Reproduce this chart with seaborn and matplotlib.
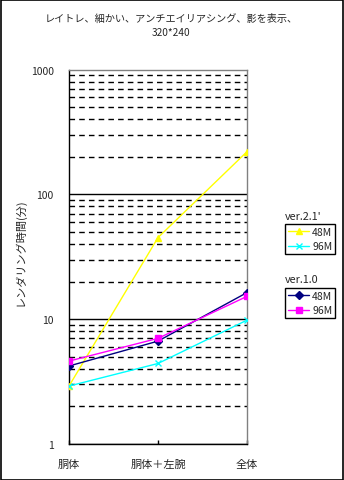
import matplotlib
matplotlib.use("Agg")
import matplotlib.pyplot as plt
import seaborn as sns
import pandas as pd
from matplotlib.patches import Rectangle
from matplotlib.ticker import FixedLocator, NullFormatter, FuncFormatter

# ---- data ----
categories = ["胴体", "胴体＋左腕", "全体"]
v21_48M = [2.9, 45, 220]
v21_96M = [2.9, 4.4, 9.8]
v10_48M = [4.2, 6.65, 16.3]
v10_96M = [4.6, 7.0, 15.2]
title_text = "レイトレ、細かい、アンチエイリアシング、影を表示、\n320*240"
ylabel_text = "レンダリング時間(分)"

sns.set_theme(style="white")
plt.rcParams['font.family'] = ['Noto Sans CJK JP', 'DejaVu Sans']

fig = plt.figure(figsize=(3.44, 4.81), dpi=100)
ax = fig.add_axes([69/344, 1-444.7/481, (247-69)/344, (444.7-70.7)/481])

series = [
    ("ver.2.1' 48M", v21_48M, "#FFFF00", "^", 5),
    ("ver.2.1' 96M", v21_96M, "#00FFFF", "x", 4),
    ("ver.1.0 48M", v10_48M, "#000080", "D", 4),
    ("ver.1.0 96M", v10_96M, "#FF00FF", "s", 5),
]
handles = []
for name, vals, col, mk, ms in series:
    df = pd.DataFrame({"x": list(range(len(categories))), "y": vals})
    sns.lineplot(data=df, x="x", y="y", ax=ax, color=col, marker=mk,
                 markersize=ms, markeredgecolor=col, markeredgewidth=1,
                 linewidth=1, zorder=3, legend=False)
    handles.append(ax.lines[-1])

ax.set_yscale("log")
ax.set_ylim(1, 1000)
ax.set_xlim(0, len(categories) - 1)
ax.set_xticks(range(len(categories)))
ax.set_xticklabels(categories, fontsize=8)
ax.yaxis.set_major_locator(FixedLocator([1, 10, 100, 1000]))
ax.yaxis.set_major_formatter(FuncFormatter(lambda v, p: f"{int(round(v))}"))
minors = [m * 10**e for e in range(0, 3) for m in range(2, 10)]
ax.yaxis.set_minor_locator(FixedLocator(minors))
ax.yaxis.set_minor_formatter(NullFormatter())
ax.tick_params(axis='y', which='both', length=0, labelsize=7.5, pad=11)
ax.tick_params(axis='x', which='major', direction='in', length=3, width=1,
               color='black', pad=11, bottom=True)
ax.grid(which='major', axis='y', color='black', linewidth=1, linestyle='-')
ax.grid(which='minor', axis='y', color='black', linewidth=1, linestyle=(0, (4, 3)))
ax.grid(axis='x', visible=False)
ax.set_axisbelow(True)
fig.canvas.draw()
for t in ax.yaxis.get_major_ticks():
    if abs(t.get_loc() - 1000) < 1e-6:
        t.gridline.set_visible(False)
for s in ['left', 'bottom']:
    ax.spines[s].set_color('black')
    ax.spines[s].set_linewidth(1)
for s in ['top', 'right']:
    ax.spines[s].set_color('#808080')
    ax.spines[s].set_linewidth(1)
ax.set_facecolor('white')
ax.set_xlabel("")
ax.set_ylabel("")

fig.text(171/344, 1-26/481, title_text, ha='center', va='center',
         fontsize=7.3, linespacing=1.6)
fig.text(20/344, 1-252/481, ylabel_text, rotation=90, ha='center', va='center',
         fontsize=8)

leg1 = fig.legend(handles[:2], ["48M", "96M"], loc='upper left',
                  bbox_to_anchor=(285/344, 1-225/481), fontsize=7.5,
                  frameon=True, fancybox=False, edgecolor='black',
                  framealpha=1, borderpad=0.3, handlelength=2.0,
                  handletextpad=0.3, labelspacing=0.4, borderaxespad=0,
                  numpoints=1)
leg1.get_frame().set_linewidth(1)
leg2 = fig.legend(handles[2:], ["48M", "96M"], loc='upper left',
                  bbox_to_anchor=(285/344, 1-289/481), fontsize=7.5,
                  frameon=True, fancybox=False, edgecolor='black',
                  framealpha=1, borderpad=0.3, handlelength=2.0,
                  handletextpad=0.3, labelspacing=0.4, borderaxespad=0,
                  numpoints=1)
leg2.get_frame().set_linewidth(1)
fig.text(285/344, 1-217/481, "ver.2.1'", ha='left', va='center', fontsize=7.8)
fig.text(285/344, 1-280/481, "ver.1.0", ha='left', va='center', fontsize=7.8)

fig.patches.append(Rectangle((0.5/344, 0.5/481), 1-1.5/344, 1-1.5/481,
                             transform=fig.transFigure, fill=False,
                             edgecolor='black', linewidth=1.2))

fig.savefig("out.png", dpi=100, facecolor='white')
